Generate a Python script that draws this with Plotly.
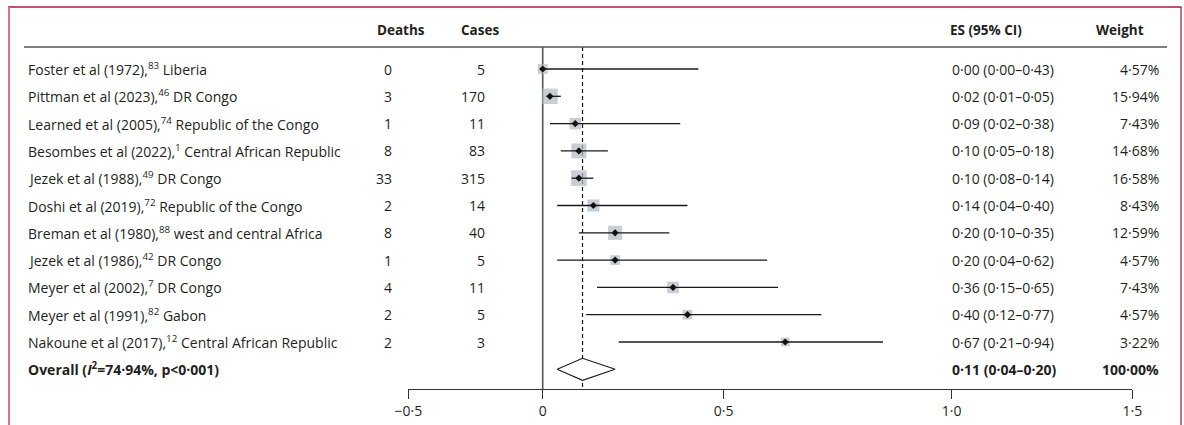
import math
import plotly.graph_objects as go

# ---------------- data ----------------
studies = [
    "Foster et al (1972),<sup>83</sup> Liberia",
    "Pittman et al (2023),<sup>46</sup> DR Congo",
    "Learned et al (2005),<sup>74</sup> Republic of the Congo",
    "Besombes et al (2022),<sup>1</sup> Central African Republic",
    "Jezek et al (1988),<sup>49</sup> DR Congo",
    "Doshi et al (2019),<sup>72</sup> Republic of the Congo",
    "Breman et al (1980),<sup>88</sup> west and central Africa",
    "Jezek et al (1986),<sup>42</sup> DR Congo",
    "Meyer et al (2002),<sup>7</sup> DR Congo",
    "Meyer et al (1991),<sup>82</sup> Gabon",
    "Nakoune et al (2017),<sup>12</sup> Central African Republic",
]
deaths = [0, 3, 1, 8, 33, 2, 8, 1, 4, 2, 2]
cases = [5, 170, 11, 83, 315, 14, 40, 5, 11, 5, 3]
es = [0.00, 0.02, 0.09, 0.10, 0.10, 0.14, 0.20, 0.20, 0.36, 0.40, 0.67]
ci_low = [0.00, 0.01, 0.02, 0.05, 0.08, 0.04, 0.10, 0.04, 0.15, 0.12, 0.21]
ci_high = [0.43, 0.05, 0.38, 0.18, 0.14, 0.40, 0.35, 0.62, 0.65, 0.77, 0.94]
weights = [4.57, 15.94, 7.43, 14.68, 16.58, 8.43, 12.59, 4.57, 7.43, 4.57, 3.22]

overall_label = "<b>Overall (<i>I</i><sup>2</sup>=74·94%, p&lt;0·001)</b>"
overall_es = 0.11
overall_low = 0.04
overall_high = 0.20
overall_weight = 100.00

headers = ["Deaths", "Cases", "ES (95% CI)", "Weight"]
tick_labels = ["−0·5", "0", "0·5", "1·0", "1·5"]

# ---------------- layout constants ----------------
W, H = 1184, 425
FONT = "Open Sans"
FS = 14
FS_HEAD = 13.5
TXT = "#231f20"
PX_PER_UNIT = 362.0
ZERO_PX = 542.7
ROW0_PX, ROW_STEP = 69.0, 27.3
AXIS_PX = 389.0


def ux(px):
    return (px - ZERO_PX) / PX_PER_UNIT


def uy(px):
    return (px - ROW0_PX) / ROW_STEP


def px_paper(px):
    return px / W


def py_paper(py):
    return 1 - py / H


def fmt(v):
    return f"{v:.2f}".replace(".", "·")


n = len(studies)
rows = list(range(n))
overall_row = n

fig = go.Figure()

# squares (weights)
fig.add_trace(go.Scatter(
    x=es, y=rows, mode="markers",
    marker=dict(symbol="square", size=[3.2 + 3.07 * math.sqrt(w) for w in weights],
                color="#b0b9c2", line=dict(width=0)),
    hoverinfo="skip", showlegend=False))

# CI lines
cx, cy = [], []
for i in rows:
    cx += [ci_low[i], ci_high[i], None]
    cy += [i, i, None]
fig.add_trace(go.Scatter(x=cx, y=cy, mode="lines",
                         line=dict(color="#1a1a1a", width=1.3),
                         hoverinfo="skip", showlegend=False))

# point estimates
fig.add_trace(go.Scatter(x=es, y=rows, mode="markers",
                         marker=dict(symbol="diamond", size=5.5, color="#111"),
                         hoverinfo="skip", showlegend=False))

# overall diamond
hh = 11.0 / ROW_STEP
fig.add_trace(go.Scatter(
    x=[overall_low, overall_es, overall_high, overall_es, overall_low],
    y=[overall_row, overall_row - hh, overall_row, overall_row + hh, overall_row],
    mode="lines", fill="toself", fillcolor="white",
    line=dict(color="#1a1a1a", width=1.1),
    hoverinfo="skip", showlegend=False))

shapes = []
# vertical line at 0 and dashed overall line
shapes.append(dict(type="line", xref="x", yref="y", x0=0, x1=0,
                   y0=uy(47), y1=uy(AXIS_PX), line=dict(color="#555", width=1.6), layer="below"))
shapes.append(dict(type="line", xref="x", yref="y", x0=overall_es, x1=overall_es,
                   y0=uy(47), y1=uy(AXIS_PX), line=dict(color="#111", width=1.2, dash="4px,3px"),
                   layer="below"))
# header rule
shapes.append(dict(type="line", xref="paper", yref="y", x0=px_paper(24), x1=px_paper(1167),
                   y0=uy(47), y1=uy(47), line=dict(color="#555", width=1.6)))
# frame
shapes.append(dict(type="line", xref="paper", yref="paper", x0=px_paper(8), x1=px_paper(1181.5),
                   y0=py_paper(7), y1=py_paper(7), line=dict(color="#a8193f", width=1.6)))
shapes.append(dict(type="line", xref="paper", yref="paper", x0=px_paper(9), x1=px_paper(9),
                   y0=py_paper(7), y1=py_paper(430), line=dict(color="#e0708f", width=2)))
shapes.append(dict(type="line", xref="paper", yref="paper", x0=px_paper(1181), x1=px_paper(1181),
                   y0=py_paper(7), y1=py_paper(430), line=dict(color="#9c1a3c", width=1.2)))

ann = []


def add_text(text, xpx, row, anchor, bold=False, size=FS):
    ann.append(dict(text=f"<b>{text}</b>" if bold else text, xref="paper", yref="y",
                    x=px_paper(xpx), y=row, xanchor=anchor, yanchor="middle",
                    showarrow=False, borderpad=0,
                    font=dict(family=FONT, size=size, color=TXT)))


# headers
hrow = uy(30)
add_text(headers[0], 376, hrow, "left", True, FS_HEAD)
add_text(headers[1], 460, hrow, "left", True, FS_HEAD)
add_text(headers[2], 949, hrow, "left", True, FS_HEAD)
add_text(headers[3], 1095, hrow, "left", True, FS_HEAD)

for i in rows:
    add_text(studies[i], 27, i, "left")
    add_text(str(deaths[i]), 393, i, "right")
    add_text(str(cases[i]), 486, i, "right")
    add_text(f"{fmt(es[i])} ({fmt(ci_low[i])}–{fmt(ci_high[i])})", 951, i, "left")
    add_text(f"{fmt(weights[i])}%", 1160, i, "right")

add_text(overall_label, 27, overall_row, "left")
add_text(f"{fmt(overall_es)} ({fmt(overall_low)}–{fmt(overall_high)})", 951, overall_row, "left", True)
add_text(f"{fmt(overall_weight)}%", 1160, overall_row, "right", True)

tick_px = [408.3, ZERO_PX, ZERO_PX + 0.5 * PX_PER_UNIT, 951.7, 1132.3]

fig.update_layout(
    width=W, height=H,
    margin=dict(l=0, r=0, t=0, b=0, pad=0, autoexpand=False),
    paper_bgcolor="white", plot_bgcolor="white",
    shapes=shapes, annotations=ann,
    font=dict(family=FONT, size=FS, color=TXT),
    xaxis=dict(domain=[px_paper(408.3), px_paper(1132.3)],
               range=[ux(408.3), ux(1132.3)],
               automargin=False,
               showgrid=False, zeroline=False,
               showline=True, linecolor="#333", linewidth=1.3,
               ticks="outside", ticklen=9, tickwidth=1.3, tickcolor="#333",
               tickvals=[ux(p) for p in tick_px], ticktext=tick_labels,
               tickfont=dict(family=FONT, size=FS, color=TXT),
               fixedrange=True),
    yaxis=dict(domain=[1 - AXIS_PX / H, 1],
               range=[uy(AXIS_PX), uy(0)],
               automargin=False,
               visible=False, fixedrange=True),
)

fig.write_html("out.html", config={"displayModeBar": False, "staticPlot": True},
               post_script="document.body.style.margin='0';document.body.style.overflow='hidden';")
